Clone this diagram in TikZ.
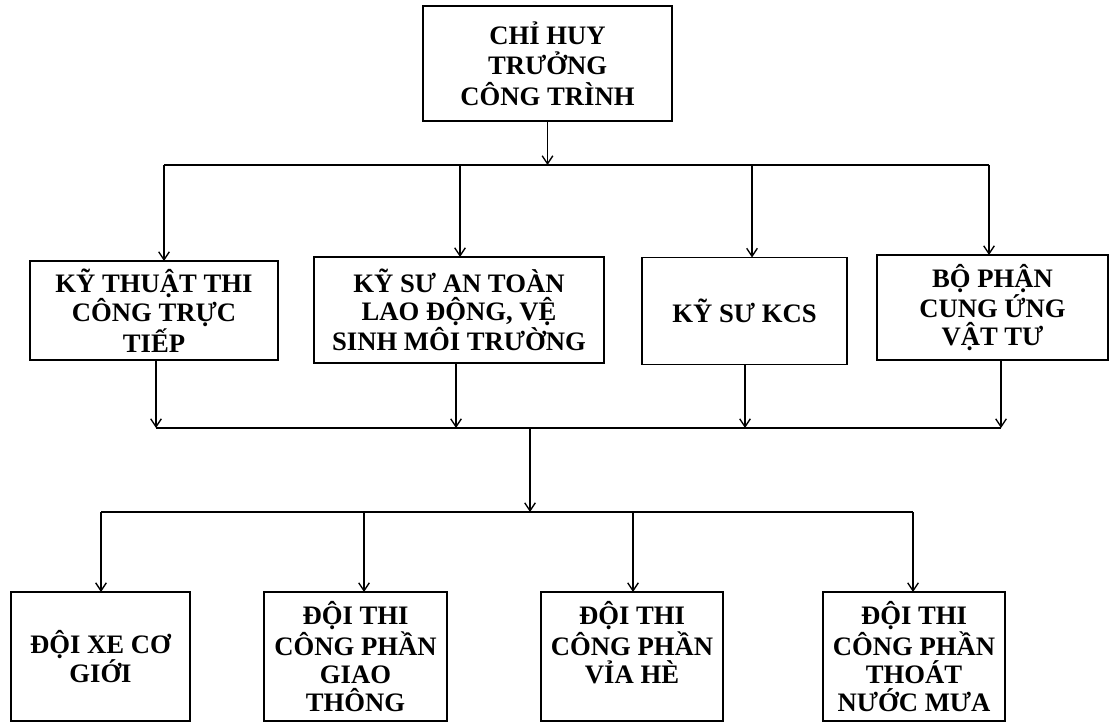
\documentclass[tikz,border=0pt]{standalone}
\usepackage{fontspec}
\setmainfont{Liberation Serif}
\usepackage{tikz}
\usetikzlibrary{arrows.meta,positioning,calc}

\begin{document}
\begin{tikzpicture}[x=0.75pt, y=-0.75pt,
	box/.style={draw, line width=1.1pt, inner sep=0pt, outer sep=0pt, align=center, font=\fontsize{20}{21}\selectfont\bfseries},
	arr/.style={-{Straight Barb[length=6pt,width=8pt]}, line width=1pt},
	bus/.style={line width=1.1pt}]
	\useasboundingbox (0,0) rectangle (1112,723);
	\node[box, minimum width=186.75pt, minimum height=86.25pt, font=\fontsize{20}{23}\selectfont\bfseries] (chihuy) at (547.5,63.5) {CHỈ HUY\\TRƯỞNG\\CÔNG TRÌNH};
	\node[box, minimum width=186pt, minimum height=74.25pt] (kythuat) at (154,310.5) {KỸ THUẬT THI\\CÔNG TRỰC\\TIẾP};
	\node[box, minimum width=217.5pt, minimum height=79.5pt] (antoan) at (459,310) {KỸ SƯ AN TOÀN\\LAO ĐỘNG, VỆ\\SINH MÔI TRƯỜNG};
	\node[box, minimum width=153.75pt, minimum height=80.25pt] (kcs) at (744.5,311) {KỸ SƯ KCS};
	\node[box, minimum width=173.25pt, minimum height=78.75pt] (cungung) at (992.5,307.5) {BỘ PHẬN\\CUNG ỨNG\\VẬT TƯ};
	\node[box, minimum width=134.25pt, minimum height=96.75pt] (xecogioi) at (100.5,656.5) {ĐỘI XE CƠ\\GIỚI};
	\node[box, minimum width=137.25pt, minimum height=96.75pt] (giaothong) at (355.5,656.5) {ĐỘI THI\\CÔNG PHẦN\\GIAO\\THÔNG};
	\node[box, minimum width=136.5pt, minimum height=96.75pt] (viahe) at (632,656.5) {ĐỘI THI\\CÔNG PHẦN\\VỈA HÈ\\\mbox{}};
	\node[box, minimum width=136.5pt, minimum height=96.75pt] (thoatnuoc) at (914,656.5) {ĐỘI THI\\CÔNG PHẦN\\THOÁT\\NƯỚC MƯA};

	\coordinate (t1) at (164,165);
	\coordinate (t2) at (460,165);
	\coordinate (t3) at (752,165);
	\coordinate (t4) at (989,165);
	\coordinate (s1) at (156,428);
	\coordinate (s2) at (456,428);
	\coordinate (s3) at (745,428);
	\coordinate (s4) at (1001,428);
	\coordinate (m2) at (530,428);
	\coordinate (m3) at (530,512);
	\coordinate (u1) at (101,512);
	\coordinate (u2) at (364,512);
	\coordinate (u3) at (633,512);
	\coordinate (u4) at (913,512);

	\draw[arr] (chihuy.south) -- (chihuy.south |- t1);
	\draw[bus] (t1) -- (t4);
	\foreach \t/\n in {t1/kythuat,t2/antoan,t3/kcs,t4/cungung}
		\draw[arr] (\t) -- (\t |- \n.north);
	\foreach \s/\n in {s1/kythuat,s2/antoan,s3/kcs,s4/cungung}
		\draw[arr] (\s |- \n.south) -- (\s);
	\draw[bus] (s1) -- (s4);
	\draw[arr] (m2) -- (m3);
	\draw[bus] (u1) -- (u4);
	\foreach \u/\n in {u1/xecogioi,u2/giaothong,u3/viahe,u4/thoatnuoc}
		\draw[arr] (\u) -- (\u |- \n.north);
\end{tikzpicture}
\end{document}
